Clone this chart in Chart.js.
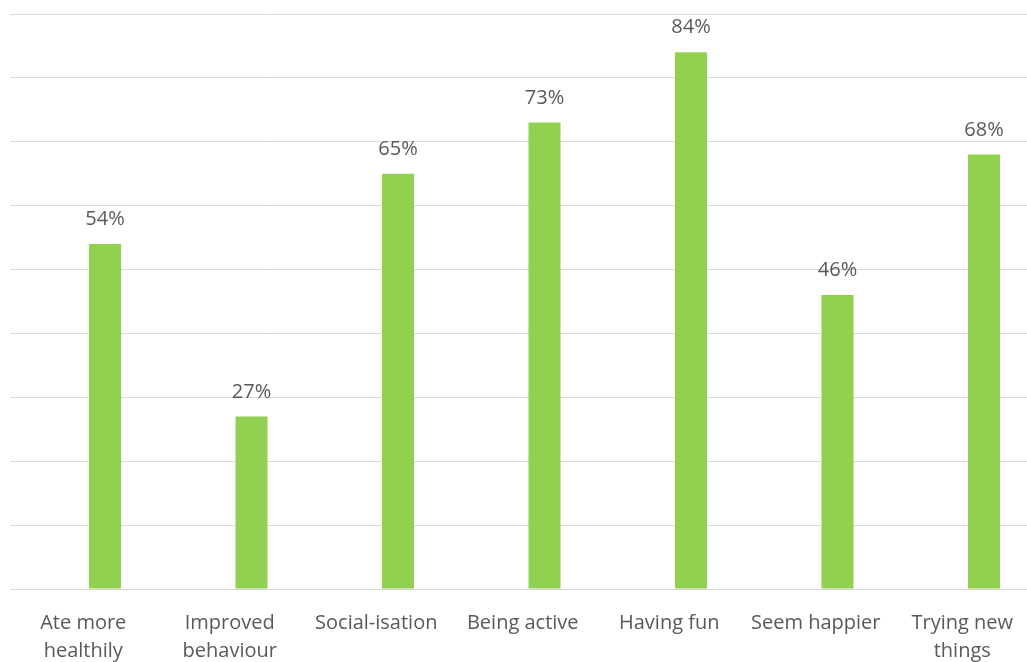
<!DOCTYPE html>
<html>
<head>
<meta charset="utf-8">
<script src="https://cdn.jsdelivr.net/npm/chart.js@4"></script>
<style>
  html, body { margin: 0; padding: 0; background: #fff; overflow: hidden; }
  #wrap { position: relative; width: 1038px; height: 662px; }
</style>
</head>
<body>
<div id="wrap"><canvas id="benefitChart"></canvas></div>
<script>
// Categories (multi-line where the original wraps)
const categories = [
    ['Ate more', 'healthily'],
    ['Improved', 'behaviour'],
    'Social-isation',
    'Being active',
    'Having fun',
    'Seem happier',
    ['Trying new', 'things']
];
// Percent of respondents
const percentValues = [54, 27, 65, 73, 84, 46, 68];
// Empty companion series: in the original the bars sit right of the label
const emptyValues = [null, null, null, null, null, null, null];
// Value axis range (no tick labels shown)
const yMin = 0;
const yMax = 90;
const yStep = 10;

const textColor = '#595959';
const gridColor = '#d9d9d9';
const fontFamily = "'Open Sans', 'Noto Sans', sans-serif";

// Draws the "54%" style labels above each bar
const valueLabels = {
    id: 'valueLabels',
    afterDatasetsDraw(chart) {
        const ctx = chart.ctx;
        const meta = chart.getDatasetMeta(1);
        ctx.save();
        ctx.font = '20px ' + fontFamily;
        ctx.fillStyle = textColor;
        ctx.textAlign = 'center';
        ctx.textBaseline = 'alphabetic';
        meta.data.forEach((bar, i) => {
            ctx.fillText(percentValues[i] + '%', bar.x, bar.y - 19);
        });
        ctx.restore();
    }
};

const config = {
    type: 'bar',
    data: {
        labels: categories,
        datasets: [{
            data: emptyValues,
            backgroundColor: 'rgba(0,0,0,0)',
            categoryPercentage: 0.594,
            barPercentage: 0.736
        }, {
            data: percentValues,
            backgroundColor: '#92d050',
            borderWidth: 0,
            categoryPercentage: 0.594,
            barPercentage: 0.736
        }]
    },
    options: {
        responsive: true,
        maintainAspectRatio: false,
        animation: false,
        layout: { padding: { left: 10, right: 2.5, top: 14, bottom: 0 } },
        plugins: {
            legend: { display: false },
            tooltip: { enabled: false }
        },
        scales: {
            x: {
                grid: { display: false },
                border: { display: false },
                ticks: {
                    color: textColor,
                    padding: 12,
                    maxRotation: 0,
                    autoSkip: false,
                    font: { family: fontFamily, size: 20, lineHeight: '28px' }
                },
                afterFit: s => { s.height = 73; }
            },
            y: {
                min: yMin,
                max: yMax,
                ticks: { stepSize: yStep, display: false },
                grid: { color: gridColor, lineWidth: 1, drawTicks: false },
                border: { display: false },
                afterFit: s => { s.width = 0; }
            }
        }
    },
    plugins: [valueLabels]
};

new Chart(document.getElementById('benefitChart'), config);
</script>
</body>
</html>
